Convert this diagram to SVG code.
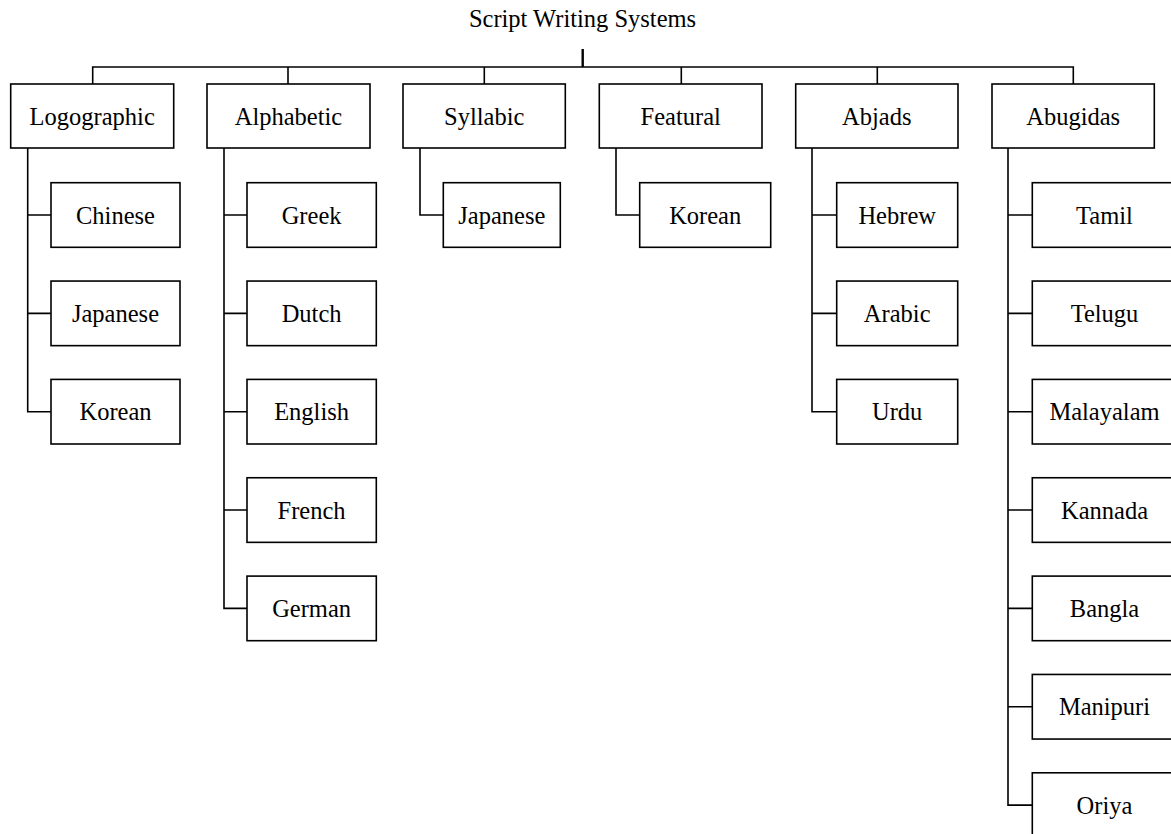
<svg xmlns="http://www.w3.org/2000/svg" width="1171" height="834" viewBox="0 0 1171 834">
<style>
.box{fill:#fff;stroke:#000;stroke-width:1.6}
.t{font-family:"Liberation Serif","Times New Roman",serif;font-size:24.5px;fill:#000;text-anchor:middle}
.c{fill:none;stroke:#000;stroke-width:1.6}
</style>
<rect width="1171" height="834" fill="#fff"/>
<g id="root"><text class="t" x="582.5" y="27">Script Writing Systems</text></g>
<g id="connectors">
<line class="c" x1="582.7" y1="49" x2="582.7" y2="67" style="stroke-width:2.4"/>
<path class="c" d="M92.7 84V67H1073.3V84M288 67V84M484.3 67V84M681.3 67V84M877.3 67V84"/>
<path class="c" d="M27.7 148V411.7H51M27.7 215H51M27.7 313.35H51"/>
<path class="c" d="M224 148V608.4H247M224 215H247M224 313.35H247M224 411.7H247M224 510.05H247"/>
<path class="c" d="M420 148V215H443.3"/>
<path class="c" d="M616 148V215H639.7"/>
<path class="c" d="M812 148V411.7H836.7M812 215H836.7M812 313.35H836.7"/>
<path class="c" d="M1008 148V805.1H1032.3M1008 215H1032.3M1008 313.35H1032.3M1008 411.7H1032.3M1008 510.05H1032.3M1008 608.4H1032.3M1008 706.75H1032.3"/>
</g>
<g id="logographic"><rect class="box" x="10.7" y="84" width="163" height="64"/><text class="t" x="92.2" y="124.8">Logographic</text></g>
<g id="alphabetic"><rect class="box" x="207" y="84" width="163" height="64"/><text class="t" x="288.5" y="124.8">Alphabetic</text></g>
<g id="syllabic"><rect class="box" x="403" y="84" width="162.3" height="64"/><text class="t" x="484.2" y="124.8">Syllabic</text></g>
<g id="featural"><rect class="box" x="599.3" y="84" width="162.7" height="64"/><text class="t" x="680.7" y="124.8">Featural</text></g>
<g id="abjads"><rect class="box" x="795.7" y="84" width="162.3" height="64"/><text class="t" x="876.8" y="124.8">Abjads</text></g>
<g id="abugidas"><rect class="box" x="992" y="84" width="162.3" height="64"/><text class="t" x="1073.2" y="124.8">Abugidas</text></g>

<g id="logo-chinese"><rect class="box" x="51" y="182.7" width="129" height="64.6"/><text class="t" x="115.5" y="223.5">Chinese</text></g>
<g id="logo-japanese"><rect class="box" x="51" y="281.05" width="129" height="64.6"/><text class="t" x="115.5" y="321.85">Japanese</text></g>
<g id="logo-korean"><rect class="box" x="51" y="379.4" width="129" height="64.6"/><text class="t" x="115.5" y="420.2">Korean</text></g>

<g id="alpha-greek"><rect class="box" x="247" y="182.7" width="129.3" height="64.6"/><text class="t" x="311.6" y="223.5">Greek</text></g>
<g id="alpha-dutch"><rect class="box" x="247" y="281.05" width="129.3" height="64.6"/><text class="t" x="311.6" y="321.85">Dutch</text></g>
<g id="alpha-english"><rect class="box" x="247" y="379.4" width="129.3" height="64.6"/><text class="t" x="311.6" y="420.2">English</text></g>
<g id="alpha-french"><rect class="box" x="247" y="477.75" width="129.3" height="64.6"/><text class="t" x="311.6" y="518.55">French</text></g>
<g id="alpha-german"><rect class="box" x="247" y="576.1" width="129.3" height="64.6"/><text class="t" x="311.6" y="616.9">German</text></g>

<g id="syll-japanese"><rect class="box" x="443.3" y="182.7" width="117" height="64.6"/><text class="t" x="501.8" y="223.5">Japanese</text></g>

<g id="feat-korean"><rect class="box" x="639.7" y="182.7" width="131" height="64.6"/><text class="t" x="705.2" y="223.5">Korean</text></g>

<g id="abjad-hebrew"><rect class="box" x="836.7" y="182.7" width="121" height="64.6"/><text class="t" x="897.2" y="223.5">Hebrew</text></g>
<g id="abjad-arabic"><rect class="box" x="836.7" y="281.05" width="121" height="64.6"/><text class="t" x="897.2" y="321.85">Arabic</text></g>
<g id="abjad-urdu"><rect class="box" x="836.7" y="379.4" width="121" height="64.6"/><text class="t" x="897.2" y="420.2">Urdu</text></g>

<g id="abu-tamil"><rect class="box" x="1032.3" y="182.7" width="144.4" height="64.6"/><text class="t" x="1104.5" y="223.5">Tamil</text></g>
<g id="abu-telugu"><rect class="box" x="1032.3" y="281.05" width="144.4" height="64.6"/><text class="t" x="1104.5" y="321.85">Telugu</text></g>
<g id="abu-malayalam"><rect class="box" x="1032.3" y="379.4" width="144.4" height="64.6"/><text class="t" x="1104.5" y="420.2">Malayalam</text></g>
<g id="abu-kannada"><rect class="box" x="1032.3" y="477.75" width="144.4" height="64.6"/><text class="t" x="1104.5" y="518.55">Kannada</text></g>
<g id="abu-bangla"><rect class="box" x="1032.3" y="576.1" width="144.4" height="64.6"/><text class="t" x="1104.5" y="616.9">Bangla</text></g>
<g id="abu-manipuri"><rect class="box" x="1032.3" y="674.45" width="144.4" height="64.6"/><text class="t" x="1104.5" y="715.25">Manipuri</text></g>
<g id="abu-oriya"><rect class="box" x="1032.3" y="772.8" width="144.4" height="64.6"/><text class="t" x="1104.5" y="813.6">Oriya</text></g>
</svg>
